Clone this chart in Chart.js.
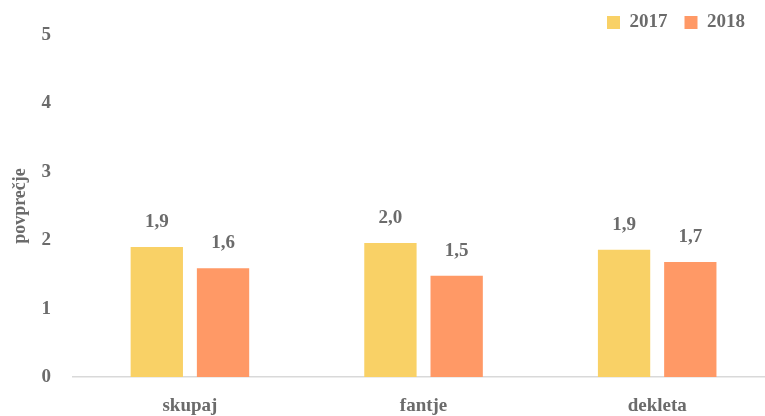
<!DOCTYPE html>
<html>
<head>
<meta charset="utf-8">
<script src="https://cdn.jsdelivr.net/npm/chart.js@4/dist/chart.umd.min.js"></script>
<style>
  html, body { margin: 0; padding: 0; background: #fff; overflow: hidden; }
  #wrap { width: 774px; height: 416px; }
</style>
</head>
<body>
<div id="wrap"><canvas id="chart" width="774" height="416"></canvas></div>
<script>
var categories = ['skupaj', 'fantje', 'dekleta'];
var years = ['2017', '2018'];
var values2017 = [1.90, 1.96, 1.86];
var values2018 = [1.59, 1.48, 1.68];
var yTicks = [0, 1, 2, 3, 4, 5];

var textGray = '#6b6b6b';
var serif = "'Liberation Serif', 'DejaVu Serif', serif";

// value labels above each bar, comma as decimal sign
var valueLabels = {
  id: 'valueLabels',
  afterDatasetsDraw: function(chart) {
    var ctx = chart.ctx;
    ctx.save();
    ctx.fillStyle = textGray;
    ctx.font = 'bold 19px ' + serif;
    ctx.textAlign = 'center';
    ctx.textBaseline = 'middle';
    chart.data.datasets.forEach(function(ds, i) {
      chart.getDatasetMeta(i).data.forEach(function(bar, j) {
        ctx.fillText(ds.data[j].toFixed(1).replace('.', ','), bar.x, bar.y - 25);
      });
    });
    ctx.restore();
  }
};

// plot area runs a bit past the right edge, so pull the legend back in
var legendNudge = {
  id: 'legendNudge',
  afterLayout: function(chart) {
    chart.legend.left -= 12;
    chart.legend.right -= 12;
  }
};

var chart = new Chart(document.getElementById('chart'), {
  type: 'bar',
  data: {
    labels: categories,
    datasets: [
      {
        label: years[0],
        data: values2017,
        backgroundColor: '#F9D166',
        barPercentage: 0.79,
        categoryPercentage: 0.567
      },
      {
        label: years[1],
        data: values2018,
        backgroundColor: '#FF9966',
        barPercentage: 0.79,
        categoryPercentage: 0.567
      }
    ]
  },
  options: {
    responsive: false,
    animation: false,
    layout: { padding: { top: -4, right: 0, bottom: 0, left: 0 } },
    plugins: {
      legend: {
        position: 'top',
        align: 'end',
        maxHeight: 39,
        labels: {
          color: textGray,
          font: { family: serif, size: 19, weight: 'bold' },
          boxWidth: 13,
          boxHeight: 13,
          padding: 17
        }
      },
      tooltip: { enabled: false }
    },
    scales: {
      x: {
        grid: { display: false, tickLength: 20 },
        border: { display: true, color: '#d9d9d9', width: 1.5 },
        ticks: {
          color: textGray,
          padding: 0,
          font: { family: serif, size: 19, weight: 'bold', lineHeight: 1 }
        }
      },
      y: {
        min: 0,
        max: 5,
        afterBuildTicks: function(axis) {
          axis.ticks = yTicks.map(function(v) { return { value: v }; });
        },
        grid: { display: false, tickLength: 22 },
        border: { display: false },
        title: {
          display: true,
          text: 'povprečje',
          color: textGray,
          font: { family: serif, size: 18, weight: 'bold' },
          padding: { top: 10, bottom: 10 }
        },
        ticks: {
          color: textGray,
          padding: 0,
          font: { family: serif, size: 19, weight: 'bold' }
        }
      }
    }
  },
  plugins: [valueLabels, legendNudge]
});
</script>
</body>
</html>
